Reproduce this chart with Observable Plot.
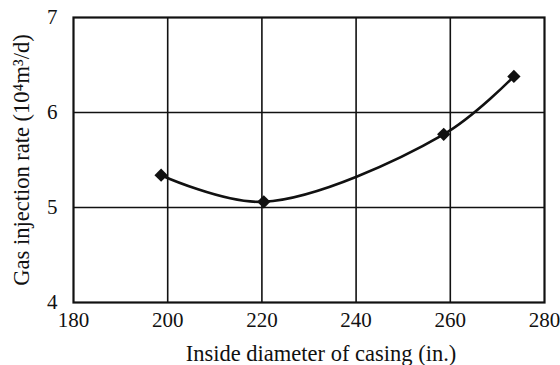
<!DOCTYPE html>
<html>
<head>
<meta charset="utf-8">
<script src="https://cdn.jsdelivr.net/npm/d3@7"></script>
<script src="https://cdn.jsdelivr.net/npm/@observablehq/plot@0.6"></script>
<style>
  html, body { margin: 0; padding: 0; background: #fff; }
  #chart svg { display: block; }
  #chart g[aria-label="y-axis label"] text { font-size: 22.5px; }
</style>
</head>
<body>
<div id="chart"></div>
<script>
// Gas injection rate versus casing inside diameter
const diameters = [198.6, 220.4, 258.6, 273.5];
const injectionRates = [5.34, 5.06, 5.77, 6.38];
const xTicks = [180, 200, 220, 240, 260, 280];
const yTicks = [4, 5, 6, 7];
const xLabel = "Inside diameter of casing (in.)";
const yLabel = "Gas injection rate (10⁴m³/d)";

const data = diameters.map((d, i) => ({x: d, y: injectionRates[i]}));
const ink = "#111";

const chart = Plot.plot({
  width: 560,
  height: 365,
  marginLeft: 73,
  marginRight: 16,
  marginTop: 17,
  marginBottom: 63,
  style: {fontFamily: "'Liberation Serif', 'Times New Roman', serif", color: ink, background: "#fff"},
  x: {domain: [180, 280]},
  y: {domain: [4, 7]},
  marks: [
    Plot.ruleX(xTicks.slice(1, -1), {stroke: ink, strokeWidth: 1.6}),
    Plot.ruleY(yTicks.slice(1, -1), {stroke: ink, strokeWidth: 1.6}),
    Plot.frame({stroke: ink, strokeWidth: 2.2}),
    Plot.axisX({ticks: xTicks, tickSize: 0, tickPadding: 10, tickFormat: d3.format("d"), fontSize: 21, label: null}),
    Plot.text([xLabel], {text: d => d, frameAnchor: "bottom", dx: 12, dy: 51, lineAnchor: "middle",
      fontSize: 22.5, fill: ink}),
    Plot.axisY({ticks: yTicks, tickSize: 0, tickPadding: 16, tickFormat: d3.format("d"), fontSize: 21,
      label: yLabel, labelAnchor: "center", labelArrow: "none", labelOffset: 60}),
    Plot.line(data, {x: "x", y: "y", curve: "catmull-rom", stroke: ink, strokeWidth: 2.6}),
    Plot.dot(data, {x: "x", y: "y", symbol: "diamond2", r: 6, fill: ink, stroke: "none"})
  ]
});
document.getElementById("chart").appendChild(chart);
</script>
</body>
</html>
